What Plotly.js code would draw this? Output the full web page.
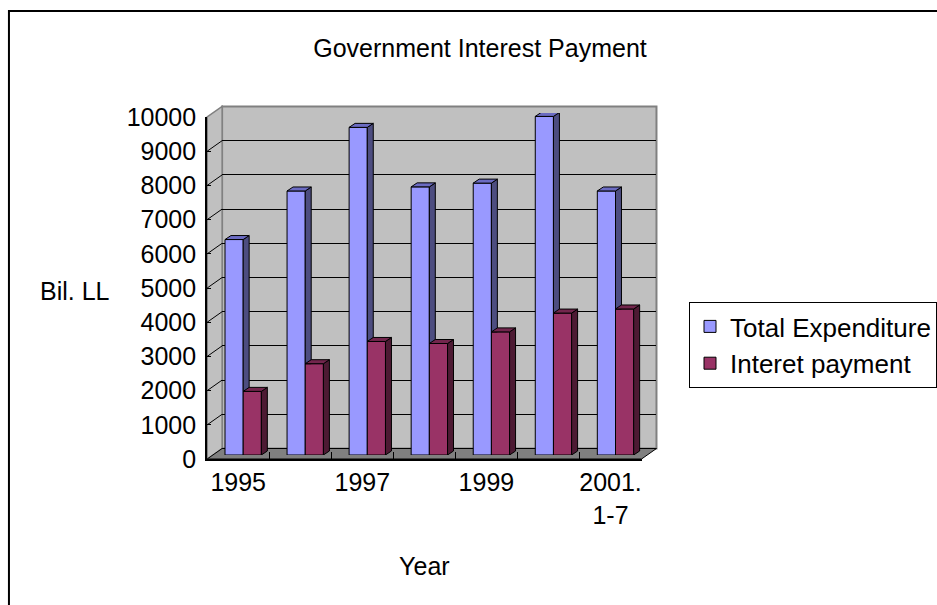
<!DOCTYPE html>
<html>
<head>
<meta charset="utf-8">
<script src="https://cdn.plot.ly/plotly-3.0.1.min.js"></script>
<style>html,body{margin:0;padding:0;background:#fff;}#chart{width:937px;height:605px;}</style>
</head>
<body>
<div id="chart"></div>
<script>
// ---- data ----
const categories = ['1995', '1996', '1997', '1998', '1999', '2000', '2001.<br>1-7'];
const totalExpenditure = [6300, 7720, 9580, 7840, 7950, 9900, 7720];
const interestPayment = [1860, 2670, 3320, 3260, 3600, 4150, 4270];
const yTickValues = [0, 1000, 2000, 3000, 4000, 5000, 6000, 7000, 8000, 9000, 10000];
const yTickLabels = ['0', '1000', '2000', '3000', '4000', '5000', '6000', '7000', '8000', '9000', '10000'];

// ---- geometry / style ----
const W = 937, H = 605;
const px = x => x / W;
const py = y => 1 - y / H;
const FRONT = {x0: 208.3, x1: 645, yb: 459, yt: 117};
const BACK  = {x0: 223.3, x1: 660, yb: 448.5, yt: 106.5};
const BARP  = {x0: 213.3, x1: 650, yb: 455, yt: 113};
const YMAX = 10000;
const XR = [-0.5, categories.length - 0.5];
const BW = 0.293;                   // bar width (category units)
const pxPerCat = (BARP.x1 - BARP.x0) / categories.length;
const pxPerVal = (BARP.yb - BARP.yt) / YMAX;
const DX = 6 / pxPerCat;            // depth offset in x
const DY = 4 / pxPerVal;            // depth offset in y

const idx = categories.map((c, i) => i);

function poly(list) {
  const xs = [], ys = [];
  list.forEach(p => { p.forEach(q => { xs.push(q[0]); ys.push(q[1]); }); xs.push(p[0][0]); ys.push(p[0][1]); xs.push(null); ys.push(null); });
  return {x: xs, y: ys};
}
function faceTrace(pts, color) {
  return Object.assign({type: 'scatter', mode: 'lines', fill: 'toself', fillcolor: color,
    line: {color: '#000', width: 1}, xaxis: 'x3', yaxis: 'y3', hoverinfo: 'skip', showlegend: false}, poly(pts));
}

const totSide = idx.map(i => { const xr = i; const v = totalExpenditure[i], u = interestPayment[i];
  return [[xr, u], [xr + DX, u], [xr + DX, v + DY], [xr, v]]; });
const totTop = idx.map(i => { const xl = i - BW, xr = i; const v = totalExpenditure[i];
  return [[xl, v], [xr, v], [xr + DX, v + DY], [xl + DX, v + DY]]; });
const intSide = idx.map(i => { const xr = i + BW; const u = interestPayment[i];
  return [[xr, 0], [xr + DX, DY], [xr + DX, u + DY], [xr, u]]; });
const intTop = idx.map(i => { const xl = i, xr = i + BW; const u = interestPayment[i];
  return [[xl, u], [xr, u], [xr + DX, u + DY], [xl + DX, u + DY]]; });

const traces = [
  // anchors the back wall and front axis subplots
  {type: 'scatter', mode: 'markers', x: [null], y: [null], xaxis: 'x', yaxis: 'y', showlegend: false, hoverinfo: 'skip'},
  {type: 'scatter', mode: 'markers', x: [null], y: [null], xaxis: 'x2', yaxis: 'y2', showlegend: false, hoverinfo: 'skip'},
  {type: 'bar', name: 'Total Expenditure', x: idx, y: totalExpenditure, width: BW, offset: -BW,
   marker: {color: '#9999FF', line: {color: '#000', width: 1}}, xaxis: 'x3', yaxis: 'y3', hoverinfo: 'skip'},
  {type: 'bar', name: 'Interet payment', x: idx, y: interestPayment, width: BW, offset: 0,
   marker: {color: '#993366', line: {color: '#000', width: 1}}, xaxis: 'x3', yaxis: 'y3', hoverinfo: 'skip'},
  faceTrace(totSide, '#4D4D80'),
  faceTrace(totTop, '#6B6BC2'),
  faceTrace(intSide, '#4D1A33'),
  faceTrace(intTop, '#73264D')
];

// side-wall grid lines and walls (decoration)
const yf = v => FRONT.yb - v / YMAX * (FRONT.yb - FRONT.yt);
const yb = v => BACK.yb - v / YMAX * (BACK.yb - BACK.yt);
const shapes = [
  {type: 'rect', xref: 'paper', yref: 'paper', x0: px(BACK.x0), x1: px(BACK.x1), y0: py(BACK.yb), y1: py(BACK.yt),
   fillcolor: '#C0C0C0', line: {color: '#808080', width: 2}, layer: 'below'},
  {type: 'path', xref: 'paper', yref: 'paper', layer: 'below', fillcolor: '#C0C0C0', line: {color: '#808080', width: 1.5},
   path: `M${px(FRONT.x0)},${py(FRONT.yb)} L${px(BACK.x0)},${py(BACK.yb)} L${px(BACK.x0)},${py(BACK.yt)} L${px(FRONT.x0)},${py(FRONT.yt)} Z`},
  {type: 'path', xref: 'paper', yref: 'paper', layer: 'below', fillcolor: '#808080', line: {color: '#000', width: 1},
   path: `M${px(FRONT.x0)},${py(FRONT.yb)} L${px(FRONT.x1)},${py(FRONT.yb)} L${px(BACK.x1)},${py(BACK.yb)} L${px(BACK.x0)},${py(BACK.yb)} Z`}
];
yTickValues.slice(1, -1).forEach(v => shapes.push({type: 'line', xref: 'paper', yref: 'paper', layer: 'below',
  x0: px(FRONT.x0), y0: py(yf(v)), x1: px(BACK.x0), y1: py(yb(v)), line: {color: '#000', width: 1}}));
shapes.push({type: 'rect', xref: 'paper', yref: 'paper', x0: px(9), y0: py(11), x1: 1.05, y1: -0.05,
  line: {color: '#000', width: 2}, fillcolor: 'rgba(0,0,0,0)', layer: 'above'});

const FONT = 'Liberation Sans, Arial, sans-serif';
const hidden = {showgrid: false, zeroline: false, showticklabels: false, ticks: '', showline: false};

const layout = {
  width: W, height: H,
  margin: {l: 0, r: 0, t: 0, b: 0, pad: 0},
  paper_bgcolor: '#FFFFFF', plot_bgcolor: 'rgba(0,0,0,0)',
  font: {family: FONT, color: '#000', size: 25},
  title: {text: 'Government Interest Payment', x: 480 / W, y: py(48), xanchor: 'center', yanchor: 'middle',
          font: {family: FONT, size: 25, color: '#000'}},
  showlegend: true,
  legend: {x: px(693), y: py(302), xanchor: 'left', yanchor: 'top', bgcolor: '#FFFFFF',
           bordercolor: '#000', borderwidth: 1, font: {family: FONT, size: 26, color: '#000'}, tracegroupgap: 0},
  barmode: 'overlay',
  // back wall
  xaxis: Object.assign({domain: [px(BACK.x0), px(BACK.x1)], range: XR, anchor: 'y', fixedrange: true}, hidden),
  yaxis: Object.assign({}, hidden, {domain: [py(BACK.yb), py(BACK.yt)], range: [0, YMAX], anchor: 'x', showgrid: true,
          gridcolor: '#000', gridwidth: 1, tickmode: 'array', tickvals: yTickValues.slice(0, -1), fixedrange: true}),
  // front axes
  xaxis2: {domain: [px(FRONT.x0), px(FRONT.x1)], range: XR, anchor: 'y2', showgrid: false, zeroline: false,
           showline: true, linecolor: '#000', linewidth: 2, ticks: '',
           tickmode: 'array', tickvals: idx.filter(i => i % 2 === 0), ticktext: categories.filter((c, i) => i % 2 === 0),
           ticklabelstandoff: 0, tickfont: {family: FONT, size: 25, color: '#000'},
           minor: {tickmode: 'array', tickvals: idx.slice(1).map(i => i - 0.5), ticks: 'inside', ticklen: 7, tickcolor: '#000', tickwidth: 1},
           title: {text: 'Year', font: {family: FONT, size: 25, color: '#000'}, standoff: 30}, fixedrange: true},
  yaxis2: {domain: [py(FRONT.yb), py(FRONT.yt)], range: [0, YMAX], anchor: 'x2', showgrid: false, zeroline: false,
           showline: true, linecolor: '#000', linewidth: 2, ticks: 'inside', ticklen: 4, tickcolor: '#000', tickwidth: 1,
           tickmode: 'array', tickvals: yTickValues, ticktext: yTickLabels, ticklabelstandoff: 4,
           tickfont: {family: FONT, size: 25, color: '#000'}, fixedrange: true},
  // bar plane
  xaxis3: Object.assign({domain: [px(BARP.x0), px(BARP.x1)], range: XR, anchor: 'y3', fixedrange: true}, hidden),
  yaxis3: Object.assign({domain: [py(BARP.yb), py(BARP.yt)], range: [0, YMAX], anchor: 'x3', fixedrange: true}, hidden),
  shapes: shapes,
  annotations: [{text: 'Bil. LL', xref: 'paper', yref: 'paper', x: px(75), y: py(291), xanchor: 'center', yanchor: 'middle',
                 showarrow: false, font: {family: FONT, size: 25, color: '#000'}}]
};

Plotly.newPlot('chart', traces, layout, {staticPlot: true, displayModeBar: false});
</script>
</body>
</html>
